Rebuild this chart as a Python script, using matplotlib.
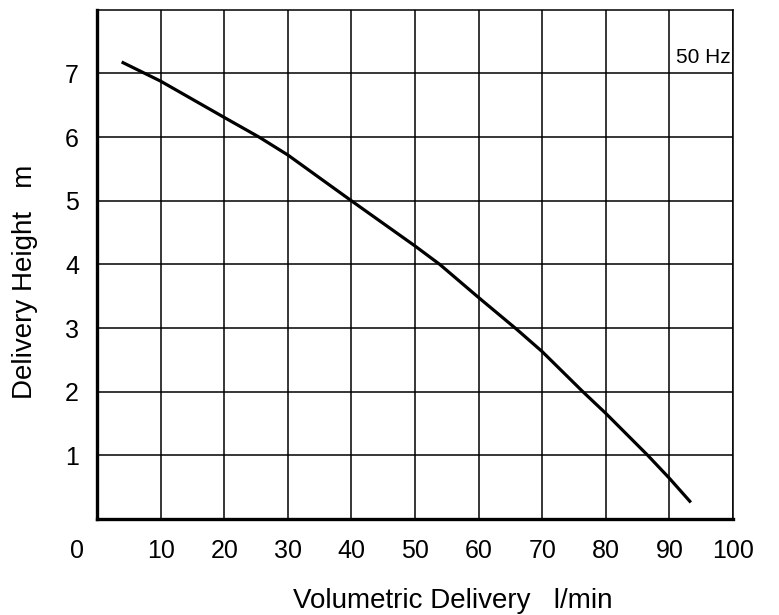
import matplotlib
matplotlib.use("Agg")
import matplotlib.pyplot as plt
from matplotlib.transforms import ScaledTranslation

plt.rcParams["font.family"] = ["Liberation Sans", "DejaVu Sans"]

# pump curve (l/min -> m)
flow = [4.1, 10, 20, 25.5, 30, 40, 50, 53.9, 60, 66, 70, 76.4, 80, 86.6, 90, 93.2]
head = [7.17, 6.88, 6.31, 6.0, 5.72, 5.0, 4.29, 4.0, 3.48, 2.98, 2.63, 2.0, 1.66, 1.0, 0.64, 0.28]

x_ticks = [0, 10, 20, 30, 40, 50, 60, 70, 80, 90, 100]
y_ticks = [1, 2, 3, 4, 5, 6, 7]

fig = plt.figure(figsize=(7.79, 6.15), dpi=100)
ax = fig.add_axes([0.1245, 0.156, 0.8165, 0.828])

ax.plot(flow, head, color="black", lw=2.3, solid_joinstyle="round")

ax.set_xlim(0, 100)
ax.set_ylim(0, 8)
ax.set_xticks(x_ticks)
ax.set_yticks(y_ticks)
ax.set_xticklabels([str(v) for v in x_ticks])
ax.set_yticklabels([str(v) for v in y_ticks])
ax.tick_params(length=0, labelsize=18, colors="black")
ax.tick_params(axis="x", pad=14)
ax.tick_params(axis="y", pad=13)

# the "0" sits left of the origin
lbl0 = ax.get_xticklabels()[0]
lbl0.set_transform(lbl0.get_transform() + ScaledTranslation(-0.2, 0, fig.dpi_scale_trans))

ax.grid(True, color="black", lw=1.1)
ax.set_axisbelow(True)
for side in ("left", "bottom"):
    ax.spines[side].set_linewidth(2.4)
for side in ("top", "right"):
    ax.spines[side].set_linewidth(1.1)

ax.text(99.6, 7.17, "50 Hz", ha="right", va="baseline", fontsize=15)

ax.text(-0.113, 0.466, "Delivery Height   m", transform=ax.transAxes,
        rotation=90, ha="center", va="center", fontsize=20)
ax.text(0.56, -0.175, "Volumetric Delivery   l/min", transform=ax.transAxes,
        ha="center", va="baseline", fontsize=20)

fig.savefig("out.png", dpi=100)
